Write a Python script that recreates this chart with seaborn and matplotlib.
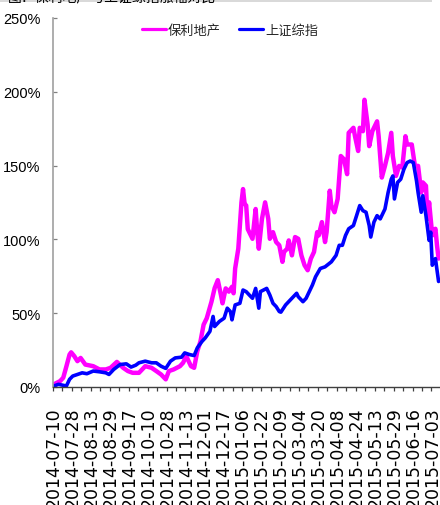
import matplotlib
matplotlib.use('Agg')
import matplotlib.pyplot as plt
import seaborn as sns
import pandas as pd
from matplotlib.lines import Line2D
from matplotlib.patches import Rectangle
from matplotlib import font_manager

# ---- data (trading-day index since 2014-07-10, cumulative % change) ----
tick_labels = ['2014-07-10', '2014-07-28', '2014-08-13', '2014-08-29', '2014-09-17',
               '2014-10-10', '2014-10-28', '2014-11-13', '2014-12-01', '2014-12-17',
               '2015-01-06', '2015-01-22', '2015-02-09', '2015-03-04', '2015-03-20',
               '2015-04-08', '2015-04-24', '2015-05-13', '2015-05-29', '2015-06-16',
               '2015-07-03']

poly_day = [0, 4, 6, 8, 10, 11, 13, 15, 17, 20, 25, 29, 33, 36, 40, 44, 47, 50, 54, 58,
            62, 65, 68, 71, 73, 76, 80, 82, 84, 87, 89, 91, 93, 95, 97, 100, 102, 104,
            106, 107, 109, 111, 113, 114, 115, 117, 119, 120, 121, 122, 123, 126, 128,
            129, 130, 132, 134, 136, 137, 139, 141, 143, 145, 146, 148, 149, 151, 153,
            155, 157, 159, 161, 163, 165, 167, 168, 170, 172, 173, 175, 176, 178, 180,
            182, 184, 186, 187, 190, 191, 193, 194, 196, 197, 199, 200, 202, 205, 206,
            208, 210, 212, 214, 215, 217, 219, 221, 223, 224, 227, 229, 231, 233, 234,
            236, 237, 238, 240, 242, 243, 244]
poly_pct = [1.8, 4.0, 6.3, 14.0, 22.0, 23.5, 20.9, 17.5, 19.7, 15.2, 14.1, 11.9, 11.9,
            13.0, 17.0, 13.0, 10.8, 9.6, 9.6, 14.1, 13.0, 10.8, 8.5, 5.2, 10.8, 11.9,
            14.1, 16.4, 20.9, 14.1, 13.0, 24.2, 30.9, 42.2, 46.6, 57.8, 67.0, 72.4,
            62.3, 56.7, 66.8, 64.6, 67.9, 63.5, 80.3, 93.7, 125.0, 134.1, 124.0, 123.0,
            107.0, 100.4, 120.6, 105.0, 93.7, 113.9, 125.1, 113.9, 100.4, 104.9, 98.2,
            96.0, 84.8, 91.5, 93.7, 99.3, 89.2, 101.6, 100.4, 89.2, 82.5, 79.1, 86.9,
            91.5, 104.9, 102.7, 111.7, 98.2, 104.9, 133.0, 122.9, 118.4, 127.4, 156.5,
            154.3, 144.2, 172.2, 175.6, 169.9, 159.9, 175.6, 173.3, 194.6, 177.8, 163.2,
            173.3, 180.0, 169.9, 141.9, 149.8, 158.7, 172.2, 156.5, 143.0, 149.8, 148.7,
            169.9, 164.3, 164.3, 149.8, 149.8, 131.8, 138.6, 136.3, 113.9, 125.1, 102.7,
            107.2, 96.0, 87.0]

sh_day = [0, 3, 8, 10, 12, 15, 18, 21, 25, 29, 33, 35, 38, 42, 46, 49, 52, 54, 58, 62,
          65, 68, 71, 74, 77, 81, 83, 86, 89, 91, 94, 96, 99, 101, 102, 105, 108, 110,
          112, 113, 115, 118, 120, 122, 124, 126, 128, 130, 131, 135, 137, 139, 141,
          143, 144, 147, 150, 154, 155, 158, 160, 162, 164, 166, 169, 172, 176, 179,
          181, 183, 185, 187, 190, 192, 194, 196, 198, 200, 201, 203, 205, 207, 210,
          212, 214, 215, 216, 218, 220, 222, 224, 226, 228, 230, 231, 233, 234, 236,
          238, 239, 240, 242, 244]
sh_pct = [0.7, 1.8, 0.7, 5.2, 7.4, 8.5, 9.6, 9.0, 10.8, 10.3, 9.6, 8.5, 11.9, 15.2,
          15.7, 13.5, 14.8, 16.4, 17.5, 16.4, 16.4, 14.1, 12.6, 17.5, 19.7, 20.2, 23.1,
          22.0, 21.3, 26.5, 30.9, 33.2, 37.7, 47.8, 41.0, 44.4, 46.6, 53.4, 51.1, 45.5,
          55.6, 56.7, 65.7, 64.6, 62.3, 60.1, 66.8, 53.4, 64.6, 66.8, 62.3, 56.7, 54.5,
          51.1, 50.7, 55.6, 59.0, 63.5, 61.2, 57.8, 60.1, 64.6, 69.1, 74.7, 80.3, 81.4,
          84.8, 89.2, 96.0, 96.0, 102.7, 107.2, 109.4, 116.1, 122.9, 119.5, 118.4, 109.4,
          101.6, 111.7, 116.1, 113.9, 120.6, 131.8, 140.8, 143.0, 127.4, 138.6, 140.8,
          147.5, 152.0, 153.1, 152.0, 139.7, 131.8, 118.4, 129.6, 116.1, 99.3, 104.9,
          82.5, 87.0, 71.5]

y_ticks = [0, 50, 100, 150, 200, 250]
series_names = ['保利地产', '上证综指']
series_colors = ['#FF00FF', '#0000FF']

# ---- style ----
sns.set_theme(style='white')
plt.rcParams['font.family'] = ['Noto Sans CJK SC', 'DejaVu Sans']
installed = {f.name for f in font_manager.fontManager.ttflist}
ytick_family = 'Liberation Sans Narrow' if 'Liberation Sans Narrow' in installed else 'Liberation Sans'

W, H = 440, 506
fig = plt.figure(figsize=(W / 100, H / 100), dpi=100)
fig.patch.set_facecolor('white')
ax = fig.add_axes([53 / W, 1 - 388 / H, (W - 53) / W, (388 - 19) / H])
ax.set_facecolor('white')

df_poly = pd.DataFrame({'day': poly_day, 'pct': poly_pct})
df_sh = pd.DataFrame({'day': sh_day, 'pct': sh_pct})
sns.lineplot(data=df_poly, x='day', y='pct', ax=ax, color=series_colors[0],
             linewidth=3.2, legend=False)
sns.lineplot(data=df_sh, x='day', y='pct', ax=ax, color=series_colors[1],
             linewidth=2.6, legend=False)

ax.set_xlim(-0.5, 244.9)
ax.set_ylim(0, 250)
ax.set_xlabel('')
ax.set_ylabel('')

# x ticks: labels every 12 trading days, tick marks every 6
ax.set_xticks([12 * k for k in range(len(tick_labels))])
ax.set_xticklabels(tick_labels, rotation=90, fontfamily='DejaVu Sans', fontsize=12.5,
                   color='#000000')
ax.set_xticks([-0.5 + 6 * k for k in range(41)], minor=True)
ax.tick_params(axis='x', which='major', length=0, pad=14)
ax.tick_params(axis='x', which='minor', bottom=True, length=3, width=0.9,
               direction='out', color='#404040')

ax.set_yticks(y_ticks)
ax.set_yticklabels([f'{v}%' for v in y_ticks], fontfamily=ytick_family, fontsize=10.5,
                   color='#000000')
ax.tick_params(axis='y', which='major', left=True, length=3, width=0.9,
               direction='in', color='#808080', pad=9)

for s in ['top', 'right']:
    ax.spines[s].set_visible(False)
ax.spines['left'].set_color('#a0a0a0')
ax.spines['left'].set_linewidth(1.2)
ax.spines['bottom'].set_color('#404040')
ax.spines['bottom'].set_linewidth(1.0)

# legend
handles = [Line2D([], [], color=series_colors[0], lw=2.3),
           Line2D([], [], color=series_colors[1], lw=2.3)]
fig.legend(handles, series_names, loc='center', bbox_to_anchor=(230 / W, 1 - 31 / H),
           ncol=2, frameon=False, handlelength=1.8, handletextpad=0.15,
           columnspacing=1.4, prop={'family': 'Noto Sans CJK SC', 'size': 9.5})

# cut-off title band at the very top (only the lowest strokes of the title show)
fig.patches.append(Rectangle((0, 1 - 3 / H), 432 / W, 3 / H, transform=fig.transFigure,
                             facecolor='#d9d9d9', edgecolor='none', zorder=0))
fig.text(8 / W, 1 - 1.0 / H, '图：保利地产与上证综指涨幅对比', fontsize=10,
         va='baseline', ha='left', color='black')

fig.savefig('out.png', dpi=100)
